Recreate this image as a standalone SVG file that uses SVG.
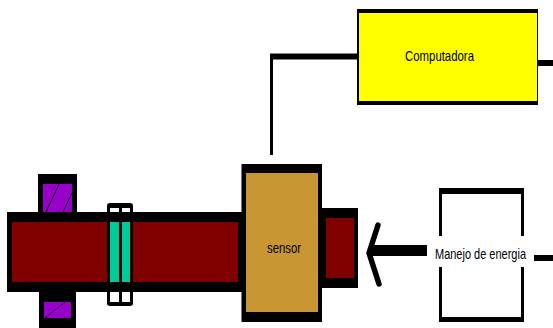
<svg xmlns="http://www.w3.org/2000/svg" width="553" height="328" viewBox="0 0 553 328">
<style>
.k{fill:#000}
.r{fill:#800000}
.p{fill:#9900cc}
.g{fill:#00cc99}
.w{fill:#fff}
.t{font-family:"Liberation Sans",Arial,sans-serif;font-size:15px;fill:#000;text-anchor:start}
.h{fill:none;stroke:#000}
</style>
<rect width="553" height="328" fill="#fff"/>
<g id="connectors">
<path class="h" stroke-width="3" d="M271.500 155V55"/>
<path class="h" stroke-width="6" d="M270 56.500H358"/>
<path class="h" stroke-width="6" d="M538 63H553"/>
<path class="h" stroke-width="11" d="M427 250.500H372"/>
<path class="h" stroke-width="5.500" stroke-linecap="round" stroke-linejoin="round" d="M378 225L369 253L379 284"/>
<path class="h" stroke-width="6" d="M534 258H553"/>
</g>
<g id="purple-top">
<rect class="k" x="38" y="174" width="39" height="40"/>
<rect class="p" x="43" y="184" width="29" height="29"/>
<path class="h" d="M46 212L59 184M63 212L72 193"/>
</g>
<g id="purple-bottom">
<rect class="k" x="39" y="290" width="37" height="38"/>
<rect class="p" x="44" y="302" width="27" height="16"/>
<path class="h" stroke-dasharray="3 1" d="M45 318L65 302"/>
</g>
<g id="shaft">
<rect class="k" x="7" y="212" width="236" height="80"/>
<rect class="r" x="12" y="222" width="226" height="60"/>
</g>
<g id="coupling">
<rect class="k" x="107" y="203" width="26" height="12" rx="3"/>
<rect class="w" x="110" y="208" width="9" height="4"/>
<rect class="w" x="122" y="208" width="8" height="4"/>
<rect class="k" x="107" y="222" width="26" height="60"/>
<rect class="g" x="110" y="222" width="9" height="60"/>
<rect class="g" x="122" y="222" width="8" height="60"/>
<rect class="k" x="107" y="288" width="26" height="18" rx="3"/>
<rect class="w" x="110" y="292" width="9" height="10"/>
<rect class="w" x="122" y="292" width="8" height="10"/>
</g>
<g id="end-block">
<rect class="k" x="320" y="208" width="38" height="80"/>
<rect class="r" x="326" y="218" width="28" height="60"/>
</g>
<g id="sensor">
<rect class="k" x="241.500" y="164" width="80.500" height="158"/>
<rect x="246" y="173" width="72" height="139" fill="#c89632"/>
<text class="t" x="267" y="253" textLength="34" lengthAdjust="spacingAndGlyphs">sensor</text>
</g>
<g id="computadora">
<rect class="k" x="357" y="9" width="181" height="96"/>
<rect x="359" y="13" width="178" height="88" fill="#ffff00"/>
<text class="t" x="405" y="61" textLength="69" lengthAdjust="spacingAndGlyphs">Computadora</text>
</g>
<g id="manejo">
<rect x="440.500" y="191" width="82" height="129" fill="#fff" stroke="#000" stroke-width="3"/>
<path d="M439 188H524V194H439ZM439 317H524V322H439Z" class="k"/>
<rect class="w" x="433" y="236" width="96" height="31"/>
<text class="t" x="435" y="259" textLength="91" lengthAdjust="spacingAndGlyphs">Manejo de energia</text>
</g>
</svg>
